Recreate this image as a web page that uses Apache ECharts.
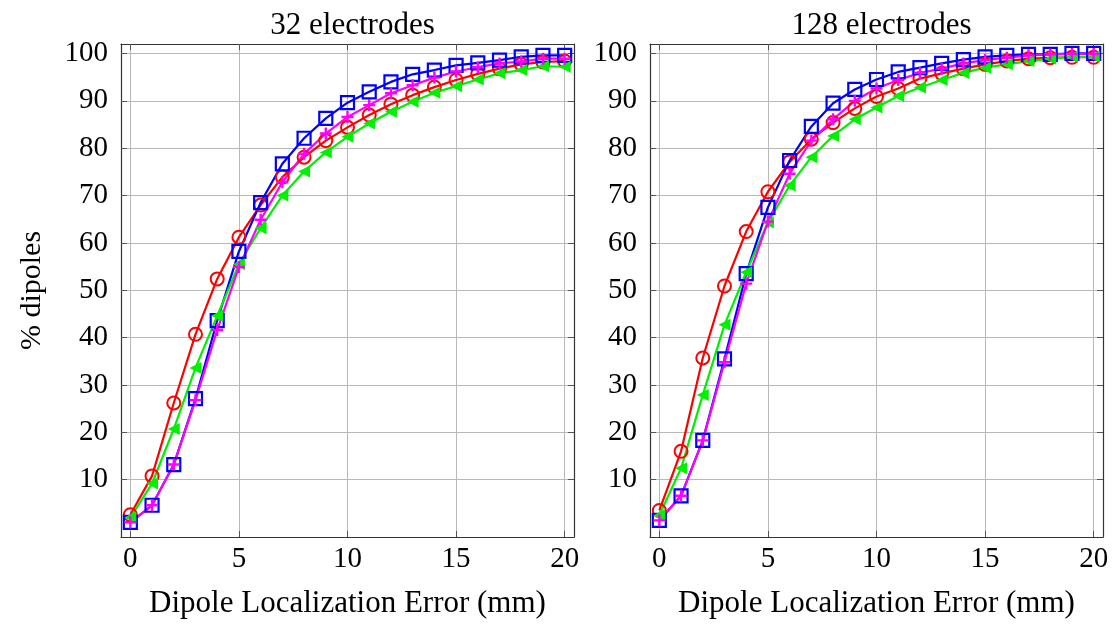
<!DOCTYPE html>
<html><head><meta charset="utf-8">
<script src="https://cdn.jsdelivr.net/npm/echarts@6/dist/echarts.min.js"></script>
<style>html,body{margin:0;padding:0;background:#fff}#c{width:1114px;height:624px}</style>
</head><body><div id="c"></div>
<script>
const errors = [0,1,2,3,4,5,6,7,8,9,10,11,12,13,14,15,16,17,18,19,20];
const xTicks = [0,5,10,15,20];
const yTicks = [10,20,30,40,50,60,70,80,90,100];
const panelTitles = ['32 electrodes','128 electrodes'];
const xName = 'Dipole Localization Error (mm)';
const yName = '% dipoles';

const red32   = [2.6,10.8,26.2,40.7,52.4,61.2,68.0,73.9,78.1,81.6,84.4,87.0,89.3,91.2,92.9,94.4,95.7,96.8,97.7,98.2,98.4];
const blue32  = [1.0,4.6,13.2,27.1,43.6,58.2,68.5,76.7,82.1,86.3,89.6,91.9,94.0,95.6,96.5,97.5,98.0,98.6,99.3,99.6,99.6];
const mag32   = [1.0,4.6,13.2,26.8,41.6,54.9,64.9,72.8,78.8,83.1,86.6,89.1,91.6,93.3,94.9,96.2,97.1,97.9,98.3,98.9,98.9];
const green32 = [2.0,9.2,20.7,33.6,44.6,55.5,63.1,70.0,75.1,79.1,82.4,85.2,87.7,89.8,91.7,93.1,94.5,95.8,96.5,97.3,97.2];

const red128   = [3.5,16.0,35.7,50.9,62.4,70.8,77.1,81.9,85.4,88.4,90.9,92.6,94.7,95.8,96.8,97.7,98.4,98.9,99.1,99.2,99.2];
const blue128  = [1.4,6.6,18.3,35.5,53.5,67.5,77.4,84.6,89.5,92.4,94.5,96.1,97.0,97.9,98.7,99.3,99.6,99.8,99.8,100,100];
const mag128   = [1.4,6.6,18.3,34.8,51.4,64.5,74.6,81.6,86.1,90.0,92.6,94.4,95.9,96.8,97.9,98.6,99.1,99.6,99.8,99.9,99.9];
const green128 = [2.5,12.4,27.9,42.7,53.8,64.3,72.1,78.1,82.6,86.1,88.6,91.0,92.8,94.4,95.9,97.0,97.7,98.4,98.9,99.3,99.3];

const FONT = 'Liberation Serif';
const XMIN = -0.43, XMAX = 20.43, YMIN = -2.1, YMAX = 102;
const grids = [
  {left:121, top:44, width:453, height:495},
  {left:650, top:44, width:453, height:495}
];
const PLUS = 'path://M4,0H6V4H10V6H6V10H4V6H0V4H4Z';

function xAxisMain(gi){
  return {type:'value', gridIndex:gi, min:XMIN, max:XMAX, position:'bottom',
    name:xName, nameLocation:'middle', nameGap:51,
    nameTextStyle:{fontFamily:FONT, fontSize:31, color:'#000'},
    axisLine:{show:true, onZero:false, lineStyle:{color:'#333', width:1.2}},
    axisTick:{show:true, inside:true, length:6, customValues:xTicks, lineStyle:{color:'#555'}},
    axisLabel:{show:true, customValues:xTicks, fontFamily:FONT, fontSize:29, color:'#000', margin:8},
    splitLine:{show:true, customValues:xTicks, lineStyle:{color:'#b8b8b8', width:1}}};
}
function xAxisTop(gi){
  return {type:'value', gridIndex:gi, min:XMIN, max:XMAX, position:'top',
    axisLine:{show:true, onZero:false, lineStyle:{color:'#333', width:1.2}},
    axisTick:{show:true, inside:true, length:6, customValues:xTicks, lineStyle:{color:'#555'}},
    axisLabel:{show:false}, splitLine:{show:false}};
}
function yAxisMain(gi){
  const o = {type:'value', gridIndex:gi, min:YMIN, max:YMAX, position:'left',
    axisLine:{show:true, onZero:false, lineStyle:{color:'#333', width:1.2}},
    axisTick:{show:true, inside:true, length:6, customValues:yTicks, lineStyle:{color:'#555'}},
    axisLabel:{show:true, customValues:yTicks, fontFamily:FONT, fontSize:29, color:'#000', margin:13},
    splitLine:{show:true, customValues:yTicks, lineStyle:{color:'#b8b8b8', width:1}}};
  if (gi===0){
    o.name = yName; o.nameLocation='middle'; o.nameGap=74;
    o.nameTextStyle = {fontFamily:FONT, fontSize:30, color:'#000'};
  }
  return o;
}
function yAxisRight(gi){
  return {type:'value', gridIndex:gi, min:YMIN, max:YMAX, position:'right',
    axisLine:{show:true, onZero:false, lineStyle:{color:'#333', width:1.2}},
    axisTick:{show:true, inside:true, length:6, customValues:yTicks, lineStyle:{color:'#555'}},
    axisLabel:{show:false}, splitLine:{show:false}};
}

function pts(arr){ return errors.map((x,i)=>[x, arr[i]]); }
function mk(name, arr, xi, yi, color, kind){
  const s = {name, type:'line', xAxisIndex:xi, yAxisIndex:yi, data:pts(arr),
    lineStyle:{color, width:2.2}, showSymbol:true, animation:false, z:3};
  if (kind==='circle'){ s.symbol='circle'; s.symbolSize=13; s.itemStyle={color:'rgba(0,0,0,0)', borderColor:color, borderWidth:2}; }
  if (kind==='square'){ s.symbol='rect'; s.symbolSize=13; s.itemStyle={color:'rgba(0,0,0,0)', borderColor:color, borderWidth:2.2}; }
  if (kind==='tri'){ s.symbol='triangle'; s.symbolSize=12; s.symbolRotate=90; s.itemStyle={color:color, borderWidth:0}; }
  if (kind==='plus'){ s.symbol=PLUS; s.symbolSize=12; s.itemStyle={color:color, borderWidth:0}; }
  return s;
}

const RED='#ff0000', GREEN='#00f000', BLUE='#0000ff', MAG='#ff00ff';
const option = {
  backgroundColor:'#fff',
  animation:false,
  title: panelTitles.map((t,i)=>({text:t, left: grids[i].left + grids[i].width/2, textAlign:'center', top:5,
    textStyle:{fontFamily:FONT, fontSize:31, fontWeight:'normal', color:'#000'}})),
  grid: grids.map(g=>Object.assign({containLabel:false}, g)),
  xAxis: [xAxisMain(0), xAxisMain(1), xAxisTop(0), xAxisTop(1)],
  yAxis: [yAxisMain(0), yAxisMain(1), yAxisRight(0), yAxisRight(1)],
  series: [
    mk('red32', red32, 0, 0, RED, 'circle'),
    mk('blue32', blue32, 0, 0, BLUE, 'square'),
    mk('green32', green32, 0, 0, GREEN, 'tri'),
    mk('mag32', mag32, 0, 0, MAG, 'plus'),
    mk('red128', red128, 1, 1, RED, 'circle'),
    mk('blue128', blue128, 1, 1, BLUE, 'square'),
    mk('green128', green128, 1, 1, GREEN, 'tri'),
    mk('mag128', mag128, 1, 1, MAG, 'plus')
  ]
};
const chart = echarts.init(document.getElementById('c'), null, {renderer:'canvas'});
chart.setOption(option);
</script>
</body></html>
